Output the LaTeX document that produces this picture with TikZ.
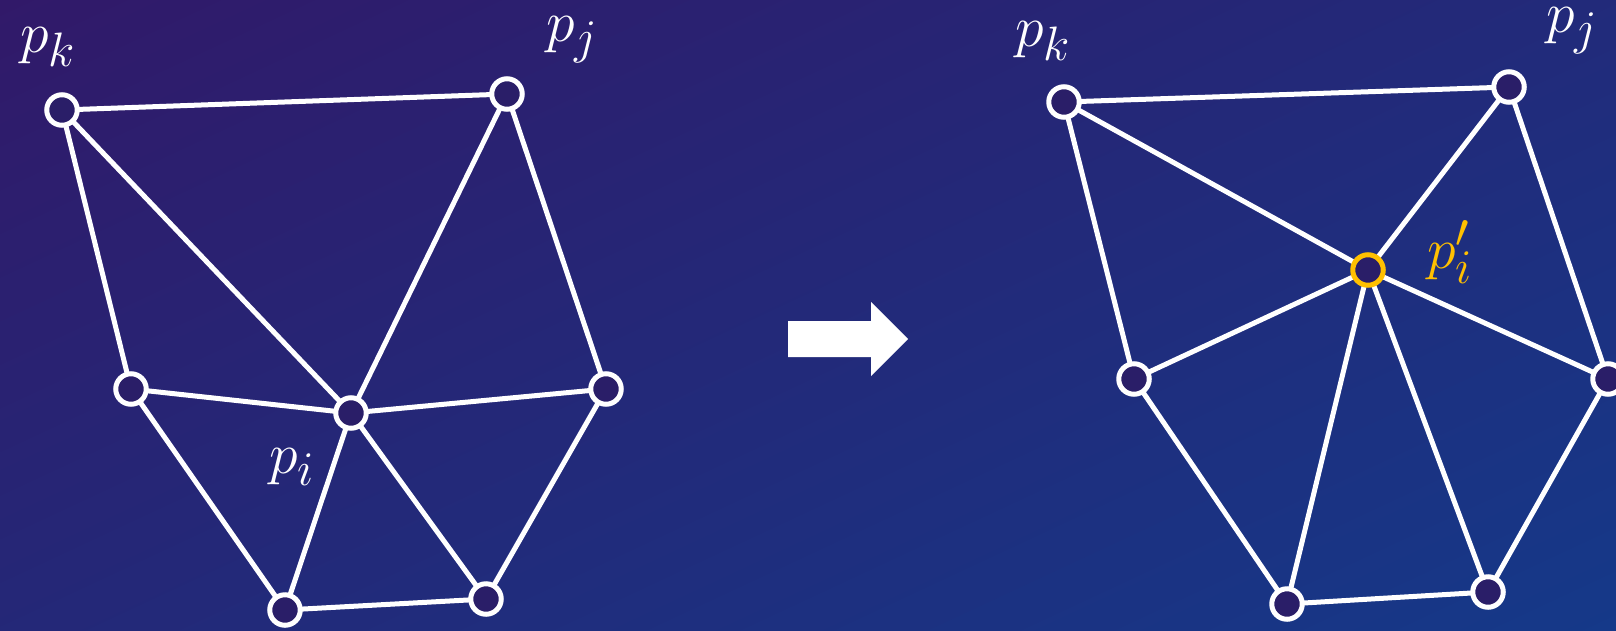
\documentclass[tikz,border=0pt]{standalone}
\usetikzlibrary{calc}
\definecolor{bgtop}{RGB}{50,24,104}
\definecolor{bgbot}{RGB}{20,58,138}
\definecolor{nodefill}{RGB}{42,30,104}
\definecolor{hilite}{RGB}{255,192,0}
\begin{document}
\begin{tikzpicture}[x=1pt,y=-1pt,
  vert/.style={circle,draw=white,line width=5pt,fill=nodefill,minimum size=30.5pt,inner sep=0pt},
  hvert/.style={vert,draw=hilite},
  edge/.style={draw=white,line width=5pt},
  lab/.style={text=white,font=\Huge,scale=2.33,inner sep=0pt},
  hlab/.style={lab,text=hilite}]
\useasboundingbox (0,0) rectangle (1616,630);
\shade[top color=bgtop,bottom color=bgbot,shading angle=25] (-200,-200) rectangle (1816,830);
% left graph
\coordinate (a-k) at (62,110);
\coordinate (a-j) at (507,94);
\coordinate (a-l) at (131,389);
\coordinate (a-i) at (351,413);
\coordinate (a-r) at (606,389);
\coordinate (a-b1) at (285,610);
\coordinate (a-b2) at (486,599);
\foreach \u/\v in {k/j,k/l,k/i,j/i,j/r,l/i,i/r,l/b1,i/b1,i/b2,r/b2,b1/b2}
  \draw[edge] (a-\u) -- (a-\v);
\foreach \n in {k,j,l,i,r,b1,b2}
  \node[vert] (na-\n) at (a-\n) {};
\node[lab] (la-k) at (48,47) {$p_k$};
\node[lab] (la-j) at (572,40) {$p_j$};
\node[lab] (la-i) at (292,467) {$p_i$};
% arrow
\fill[white] (788,321) -- (871,321) -- (871,302) -- (908,339) -- (871,376) -- (871,357) -- (788,357) -- cycle;
% right graph
\coordinate (b-k) at (1064,102);
\coordinate (b-j) at (1509,87);
\coordinate (b-l) at (1134,379);
\coordinate (b-i) at (1368,270);
\coordinate (b-r) at (1608,379);
\coordinate (b-b1) at (1287,604);
\coordinate (b-b2) at (1488,592);
\foreach \u/\v in {k/j,k/l,k/i,j/i,j/r,l/i,i/r,l/b1,i/b1,i/b2,r/b2,b1/b2}
  \draw[edge] (b-\u) -- (b-\v);
\foreach \n in {k,j,l,r,b1,b2}
  \node[vert] (nb-\n) at (b-\n) {};
\node[hvert] (nb-i) at (b-i) {};
\node[lab] (lb-k) at (1043,41) {$p_k$};
\node[lab] (lb-j) at (1572,31) {$p_j$};
\node[hlab] (lb-i) at (1450,252) {$p_i'$};
\end{tikzpicture}
\end{document}
